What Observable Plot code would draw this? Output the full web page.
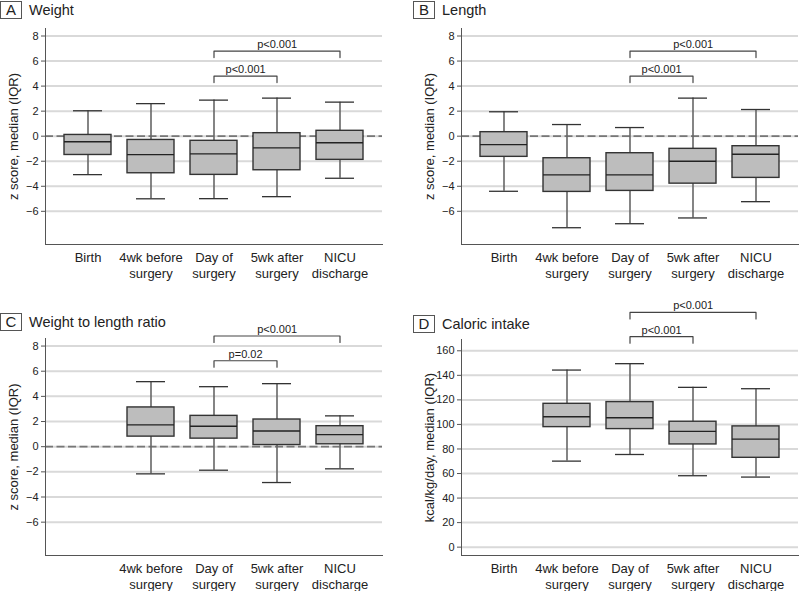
<!DOCTYPE html>
<html><head><meta charset="utf-8">
<script src="https://cdn.jsdelivr.net/npm/d3@7"></script>
<script src="https://cdn.jsdelivr.net/npm/@observablehq/plot@0.6"></script>
<style>
body{margin:0;background:#fff;font-family:"Liberation Sans",Arial,sans-serif;}
#root{position:relative;width:800px;height:591px;overflow:hidden;background:#fff;}
.panel{position:absolute;width:400px;}
.panel svg{position:absolute;left:0;top:0;overflow:visible;}
.panel svg g[aria-label="y-axis tick label"]{font-size:11px;}
.panel svg g[aria-label="y-axis label"]{font-size:13px;}
.panel svg g[aria-label="x-axis tick label"]{font-size:13px;}
.panel svg g[aria-label="text"]{font-size:11px;}
.title{position:absolute;display:flex;align-items:center;font-size:14.5px;color:#222;z-index:2;white-space:nowrap;}
.tag{display:inline-block;width:20px;height:16px;border:1px solid #555;text-align:center;line-height:16px;font-size:15px;margin-right:7px;}
</style></head><body><div id="root"></div>
<script>
const timepoints = ["Birth", "4wk before surgery", "Day of surgery", "5wk after surgery", "NICU discharge"];
const timepointLabels = ["Birth", "4wk before\nsurgery", "Day of\nsurgery", "5wk after\nsurgery", "NICU\ndischarge"];

const weightLower  = [-3.07, -5.00, -4.99, -4.83, -3.36];
const weightQ1     = [-1.50, -2.96, -3.09, -2.72, -1.89];
const weightMedian = [-0.45, -1.47, -1.41, -0.93, -0.53];
const weightQ3     = [0.10, -0.30, -0.37, 0.24, 0.43];
const weightUpper  = [2.03, 2.60, 2.88, 3.04, 2.72];

const lengthLower  = [-4.40, -7.31, -6.99, -6.53, -5.23];
const lengthQ1     = [-1.65, -4.45, -4.37, -3.79, -3.33];
const lengthMedian = [-0.67, -3.09, -3.09, -2.00, -1.44];
const lengthQ3     = [0.32, -1.76, -1.36, -1.01, -0.80];
const lengthUpper  = [1.95, 0.93, 0.69, 3.04, 2.13];

const ratioLower  = [null, -2.16, -1.87, -2.85, -1.76];
const ratioQ1     = [null, 0.80, 0.64, 0.13, 0.19];
const ratioMedian = [null, 1.73, 1.63, 1.25, 0.96];
const ratioQ3     = [null, 3.12, 2.45, 2.16, 1.63];
const ratioUpper  = [null, 5.17, 4.77, 5.01, 2.45];

const caloricLower  = [null, 70.1, 75.5, 58.2, 57.1];
const caloricQ1     = [null, 97.8, 96.2, 83.7, 72.8];
const caloricMedian = [null, 106.3, 105.4, 94.3, 88.0];
const caloricQ3     = [null, 116.8, 118.2, 102.2, 98.4];
const caloricUpper  = [null, 144.3, 149.5, 130.2, 129.1];

const comparisonFrom = ["Day of surgery", "Day of surgery"];
const comparisonTo   = ["5wk after surgery", "NICU discharge"];
const weightP  = ["p<0.001", "p<0.001"];
const lengthP  = ["p<0.001", "p<0.001"];
const ratioP   = ["p=0.02", "p<0.001"];
const caloricP = ["p<0.001", "p<0.001"];
const weightBracketY  = [4.8, 6.8];
const lengthBracketY  = [4.8, 6.8];
const ratioBracketY   = [6.83, 8.8];
const caloricBracketY = [171.5, 191.3];

const zTicks = [-6, -4, -2, 0, 2, 4, 6, 8];
const kcalTicks = [0, 20, 40, 60, 80, 100, 120, 140, 160];
const zDomain = [-8.65, 8.6];
const kcalDomain = [-6.8, 169.2];

function rowsOf(lower, q1, median, q3, upper) {
  return timepoints.map((t, i) => ({t, lower: lower[i], q1: q1[i], median: median[i], q3: q3[i], upper: upper[i]}))
    .filter(d => d.median != null);
}
function bracketsOf(labels, ys) {
  return labels.map((label, i) => ({id: i, from: comparisonFrom[i], to: comparisonTo[i], y: ys[i], label}));
}

const root = document.getElementById("root");

function panel(cfg) {
  const {left, top, tag, title, titleLeft, titleTop, rows, brackets, yDomain, yTicks, yLabel, zeroLine, hideBirth,
         mt, ml, mr, mb, height} = cfg;
  const width = 400;
  const div = document.createElement("div");
  div.className = "panel";
  div.style.left = left + "px";
  div.style.top = top + "px";
  div.style.height = height + "px";
  const xOpts = {type: "band", domain: timepoints, paddingInner: 0.26, paddingOuter: 0.297};
  const xs = Plot.scale({x: {...xOpts, range: [ml, width - mr]}});
  const plotH = height - mt - mb;
  const drop = 6.5 * (yDomain[1] - yDomain[0]) / plotH;
  const bracketPts = brackets.flatMap(b => [
    {id: b.id, x: b.from, y: b.y - drop},
    {id: b.id, x: b.from, y: b.y},
    {id: b.id, x: b.to, y: b.y},
    {id: b.id, x: b.to, y: b.y - drop}
  ]);
  const labelMarks = brackets.map(b => Plot.text([b], {
    x: "from", y: "y", text: "label",
    dx: (xs.apply(b.to) - xs.apply(b.from)) / 2,
    dy: -3, lineAnchor: "bottom", fontSize: 11, fill: "#222"
  }));
  const fmt = new Map(timepoints.map((t, i) => [t, timepointLabels[i]]));
  const svg = Plot.plot({
    width, height,
    marginTop: mt, marginLeft: ml, marginRight: mr, marginBottom: mb,
    style: {fontFamily: "'Liberation Sans', Arial, sans-serif", fontSize: "12px", color: "#222", background: "transparent", overflow: "visible"},
    x: {...xOpts, axis: null},
    y: {domain: yDomain, axis: null},
    marks: [
      Plot.gridY(yTicks, {stroke: "#d9d9d9", strokeOpacity: 1, strokeWidth: 2}),
      zeroLine ? Plot.ruleY([0], {stroke: "#777", strokeWidth: 1.7, strokeDasharray: "8,3.5"}) : null,
      Plot.frame({anchor: "left", stroke: "#555"}),
      Plot.frame({anchor: "bottom", stroke: "#555"}),
      Plot.axisY({ticks: yTicks, tickSize: 4, tickPadding: 3, fontSize: 11, stroke: "#555",
                  label: yLabel, labelAnchor: "center", labelArrow: "none", labelOffset: 37}),
      Plot.axisX({tickSize: 0, tickPadding: 7, fontSize: 13, lineHeight: 1.18, label: null,
                  tickFormat: t => (hideBirth && t === "Birth") ? "" : fmt.get(t)}),
      Plot.ruleX(rows, {x: "t", y1: "lower", y2: "upper", stroke: "#666", strokeWidth: 1.6}),
      Plot.tickY(rows, {x: "t", y: "lower", stroke: "#333", strokeWidth: 1.3, insetLeft: 9, insetRight: 9}),
      Plot.tickY(rows, {x: "t", y: "upper", stroke: "#333", strokeWidth: 1.3, insetLeft: 9, insetRight: 9}),
      Plot.barY(rows, {x: "t", y1: "q1", y2: "q3", fill: "#bdbdbd", stroke: "#333", strokeWidth: 1.4}),
      Plot.tickY(rows, {x: "t", y: "median", stroke: "#222", strokeWidth: 1.4}),
      Plot.line(bracketPts, {x: "x", y: "y", z: "id", stroke: "#444", strokeWidth: 1.2}),
      ...labelMarks
    ]
  });
  div.appendChild(svg);
  const t = document.createElement("div");
  t.className = "title";
  t.style.left = titleLeft + "px";
  t.style.top = titleTop + "px";
  const tg = document.createElement("span");
  tg.className = "tag";
  tg.textContent = tag;
  const tt = document.createElement("span");
  tt.textContent = title;
  t.appendChild(tg); t.appendChild(tt);
  div.appendChild(t);
  root.appendChild(div);
}

panel({left: 0, top: 0, tag: "A", title: "Weight", titleLeft: 0, titleTop: 1,
  rows: rowsOf(weightLower, weightQ1, weightMedian, weightQ3, weightUpper),
  brackets: bracketsOf(weightP, weightBracketY),
  yDomain: zDomain, yTicks: zTicks, yLabel: "z score, median (IQR)", zeroLine: true, hideBirth: false,
  mt: 28, ml: 45, mr: 18, mb: 40, height: 284});
panel({left: 400, top: 0, tag: "B", title: "Length", titleLeft: 13, titleTop: 1,
  rows: rowsOf(lengthLower, lengthQ1, lengthMedian, lengthQ3, lengthUpper),
  brackets: bracketsOf(lengthP, lengthBracketY),
  yDomain: zDomain, yTicks: zTicks, yLabel: "z score, median (IQR)", zeroLine: true, hideBirth: false,
  mt: 28, ml: 61, mr: 2, mb: 40, height: 284});
panel({left: 0, top: 290, tag: "C", title: "Weight to length ratio", titleLeft: 0, titleTop: 23,
  rows: rowsOf(ratioLower, ratioQ1, ratioMedian, ratioQ3, ratioUpper),
  brackets: bracketsOf(ratioP, ratioBracketY),
  yDomain: zDomain, yTicks: zTicks, yLabel: "z score, median (IQR)", zeroLine: true, hideBirth: true,
  mt: 48, ml: 45, mr: 18, mb: 36, height: 301});
panel({left: 400, top: 290, tag: "D", title: "Caloric intake", titleLeft: 13, titleTop: 25,
  rows: rowsOf(caloricLower, caloricQ1, caloricMedian, caloricQ3, caloricUpper),
  brackets: bracketsOf(caloricP, caloricBracketY),
  yDomain: kcalDomain, yTicks: kcalTicks, yLabel: "kcal/kg/day, median (IQR)", zeroLine: false, hideBirth: false,
  mt: 49, ml: 61, mr: 2, mb: 36, height: 301});
</script></body></html>
